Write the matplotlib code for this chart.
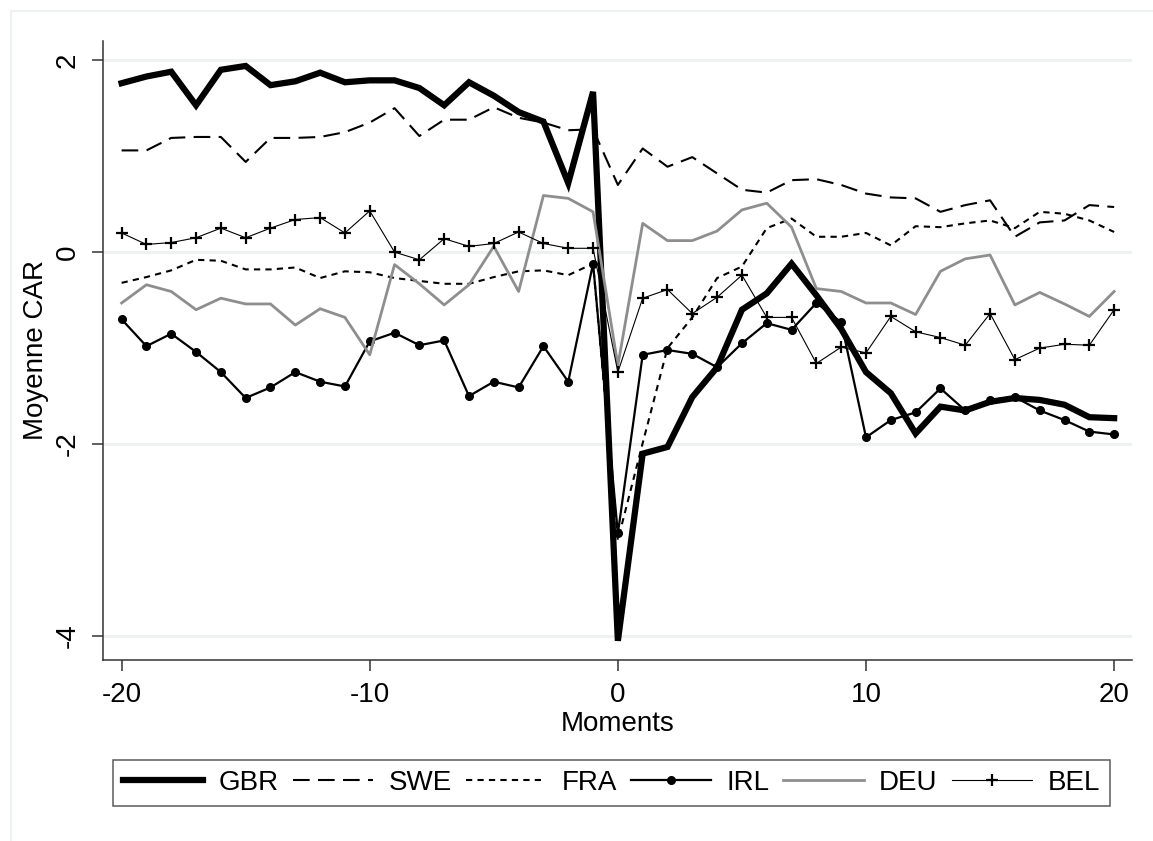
import matplotlib
matplotlib.use("Agg")
import matplotlib.pyplot as plt
from matplotlib.patches import Rectangle

plt.rcParams['font.family'] = ['Liberation Sans', 'DejaVu Sans']
plt.rcParams['axes.unicode_minus'] = False

# event-time moments
moments = list(range(-20, 21))

gbr = [1.76, 1.83, 1.88, 1.53, 1.90, 1.94, 1.74, 1.78, 1.87, 1.77,
       1.79, 1.79, 1.71, 1.53, 1.77, 1.63, 1.46, 1.36, 0.72, 1.67,
       -4.05, -2.10, -2.03, -1.51, -1.20, -0.60, -0.43, -0.12, -0.45, -0.80,
       -1.25, -1.47, -1.89, -1.61, -1.65, -1.56, -1.52, -1.54, -1.59, -1.72,
       -1.73]
swe = [1.06, 1.06, 1.19, 1.20, 1.20, 0.94, 1.19, 1.19, 1.20, 1.25,
       1.35, 1.50, 1.21, 1.38, 1.38, 1.51, 1.40, 1.35, 1.27, 1.28,
       0.70, 1.08, 0.89, 0.99, 0.82, 0.65, 0.62, 0.75, 0.76, 0.70,
       0.61, 0.57, 0.56, 0.42, 0.49, 0.54, 0.16, 0.31, 0.33, 0.49,
       0.47]
fra = [-0.32, -0.26, -0.19, -0.08, -0.09, -0.18, -0.18, -0.16, -0.27, -0.20,
       -0.21, -0.27, -0.30, -0.33, -0.33, -0.26, -0.20, -0.19, -0.24, -0.12,
       -3.00, -1.99, -1.00, -0.68, -0.27, -0.15, 0.25, 0.35, 0.16, 0.16,
       0.20, 0.07, 0.27, 0.26, 0.30, 0.33, 0.25, 0.42, 0.40, 0.33,
       0.21]
irl = [-0.70, -0.98, -0.85, -1.04, -1.25, -1.52, -1.41, -1.25, -1.35, -1.40,
       -0.93, -0.84, -0.97, -0.92, -1.50, -1.35, -1.41, -0.98, -1.35, -0.12,
       -2.93, -1.07, -1.02, -1.06, -1.20, -0.95, -0.74, -0.81, -0.53, -0.73,
       -1.93, -1.75, -1.67, -1.42, -1.65, -1.54, -1.51, -1.65, -1.75, -1.87,
       -1.90]
deu = [-0.53, -0.34, -0.41, -0.60, -0.48, -0.54, -0.54, -0.76, -0.59, -0.68,
       -1.07, -0.13, -0.33, -0.55, -0.34, 0.06, -0.41, 0.59, 0.56, 0.42,
       -1.18, 0.30, 0.12, 0.12, 0.22, 0.44, 0.51, 0.26, -0.38, -0.41,
       -0.53, -0.53, -0.65, -0.20, -0.07, -0.03, -0.55, -0.42, -0.54, -0.67,
       -0.41]
bel = [0.20, 0.08, 0.10, 0.15, 0.25, 0.15, 0.25, 0.34, 0.36, 0.20,
       0.43, 0.00, -0.08, 0.14, 0.06, 0.09, 0.21, 0.09, 0.04, 0.04,
       -1.25, -0.48, -0.39, -0.64, -0.47, -0.24, -0.68, -0.68, -1.16, -0.99,
       -1.05, -0.67, -0.83, -0.89, -0.97, -0.64, -1.12, -1.00, -0.96, -0.97,
       -0.60]

yticks = [-4, -2, 0, 2]
xticks = [-20, -10, 0, 10, 20]

grid_col = '#eaf2f3'
axis_col = '#333333'

fig = plt.figure(figsize=(11.53, 8.41), dpi=100)
fig.patch.set_facecolor('white')

# light outer frame of the graph region (runs off the right/bottom edges)
fig.add_artist(Rectangle((11 / 1153, -0.2), 1.3, 1.2 - 11 / 841,
                         transform=fig.transFigure, fill=False,
                         edgecolor=grid_col, linewidth=1.5))

ax = fig.add_axes([103 / 1153, 1 - 660 / 841, (1132 - 103) / 1153, (660 - 41) / 841])

ax.plot(moments, gbr, color='black', lw=4.5, solid_joinstyle='miter', label='GBR')
ax.plot(moments, swe, color='black', lw=1.5, dashes=(8, 4), label='SWE')
ax.plot(moments, fra, color='black', lw=1.5, dashes=(3, 2.5), label='FRA')
ax.plot(moments, irl, color='black', lw=1.6, marker='o', ms=5.5, label='IRL')
ax.plot(moments, deu, color='#8e8e8e', lw=2.0, label='DEU')
ax.plot(moments, bel, color='black', lw=0.8, marker='+', ms=8, mew=1.6, label='BEL')

ax.set_xlim(-20.75, 20.72)
ax.set_ylim(-4.25, 2.2)
ax.set_xticks(xticks)
ax.set_yticks(yticks)
ax.set_yticklabels([str(v) for v in yticks], rotation=90, va='center')
for v in yticks:
    ax.axhline(v, color=grid_col, lw=2.2, zorder=0)

for s in ['top', 'right']:
    ax.spines[s].set_visible(False)
for s in ['left', 'bottom']:
    ax.spines[s].set_color(axis_col)
    ax.spines[s].set_linewidth(1.1)
ax.tick_params(axis='both', colors=axis_col, labelcolor='black', length=8,
               width=1.1, labelsize=20)
ax.tick_params(axis='x', pad=8)
ax.tick_params(axis='y', pad=8)

ax.set_xlabel('Moments', fontsize=20, labelpad=2)
ax.set_ylabel('Moyenne CAR', fontsize=20, labelpad=4)

handles, labels = ax.get_legend_handles_labels()
leg = fig.legend(handles, labels, ncol=6, loc='center left',
                 bbox_to_anchor=(113 / 1153, 1 - 783 / 841),
                 fontsize=20, frameon=True, fancybox=False,
                 handlelength=2.9, handletextpad=0.55, columnspacing=0.5,
                 borderpad=0.35, borderaxespad=0)
leg.get_frame().set_edgecolor(axis_col)
leg.get_frame().set_linewidth(1.1)

fig.savefig('out.png', dpi=100)
